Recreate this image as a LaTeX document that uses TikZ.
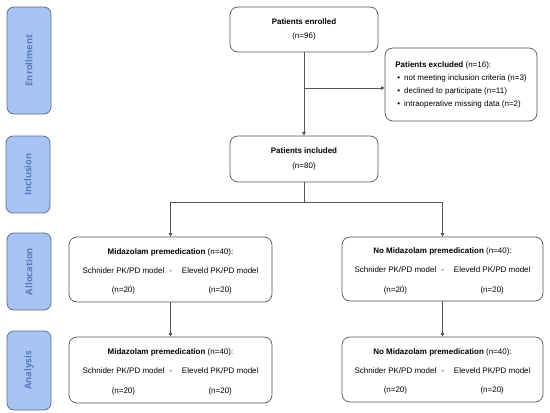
\documentclass[tikz,border=0pt]{standalone}
\usepackage{fontspec}
\setmainfont{Liberation Sans}
\newfontfamily\sidefont{Open Sans}
\usetikzlibrary{arrows.meta}
\definecolor{sidefill}{RGB}{168,196,245}
\definecolor{sidedraw}{RGB}{95,110,140}
\definecolor{sidetext}{RGB}{88,124,188}
\definecolor{linegray}{RGB}{85,85,85}
\newcommand{\armtext}[1]{%
  \renewcommand{\arraystretch}{2.0}%
  \begin{tabular}{@{}c@{\hspace{5pt}}c@{\hspace{10pt}}c@{}}
  \multicolumn{3}{c}{\textbf{#1} (n=40):}\\
  Schnider PK/PD model & - & Eleveld PK/PD model\\
  (n=20) & & (n=20)
  \end{tabular}}
\begin{document}
\begin{tikzpicture}[x=1pt,y=-1pt,
  sidebox/.style={draw=sidedraw, fill=sidefill, rounded corners=7pt, line width=0.8pt, rotate=90,
    minimum height=44pt, inner sep=0pt, text=sidetext, font=\sidefont\fontsize{9.3}{11}\selectfont\bfseries},
  flowbox/.style={draw=linegray, rounded corners=8pt, line width=0.7pt, inner sep=0pt, align=center,
    font=\fontsize{8}{9.6}\selectfont},
  link/.style={draw=linegray, line width=0.7pt, -{Triangle[length=3.5pt,width=3.5pt]}}]
\useasboundingbox (0,0) rectangle (550,413);
% stage labels
\node[sidebox, minimum width=107pt] (enroll) at (29,60.5) {Enrollment};
\node[sidebox, minimum width=77pt] (incl) at (28,174.5) {Inclusion};
\node[sidebox, minimum width=77pt] (alloc) at (29,271.5) {Allocation};
\node[sidebox, minimum width=79pt] (anal) at (29,370.5) {Analysis};
% flow
\node[flowbox, minimum width=148pt, minimum height=45pt] (enrolled) at (304,29.5) {\textbf{Patients enrolled}\\[5pt](n=96)};
\node[flowbox, minimum width=148pt, minimum height=46pt] (included) at (304,159) {\textbf{Patients included}\\[5pt](n=80)};
\node[flowbox, minimum width=152pt, minimum height=73pt] (excluded) at (461,84.5) {%
  \renewcommand{\arraystretch}{1.35}%
  \begin{tabular}{@{}l@{}}
  \textbf{Patients excluded} (n=16):\\
  \hspace{2pt}•\hspace{4pt}not meeting inclusion criteria (n=3)\\
  \hspace{2pt}•\hspace{4pt}declined to participate (n=11)\\
  \hspace{2pt}•\hspace{4pt}intraoperative missing data (n=2)
  \end{tabular}};
\node[flowbox, minimum width=203pt, minimum height=65pt] (midaz) at (170.5,269.5) {\armtext{Midazolam premedication}};
\node[flowbox, minimum width=201pt, minimum height=64pt] (nomidaz) at (442.5,269) {\armtext{No Midazolam premedication}};
\node[flowbox, minimum width=203pt, minimum height=66pt] (midazan) at (170.5,370) {\armtext{Midazolam premedication}};
\node[flowbox, minimum width=201pt, minimum height=65pt] (nomidazan) at (442.5,369.5) {\armtext{No Midazolam premedication}};
\coordinate (split) at (304,88);
\coordinate (fork) at (304,202);
\draw[link] (enrolled) -- (included);
\draw[link] (split) -- (split -| excluded.west);
\draw[draw=linegray, line width=0.7pt] (included) -- (fork);
\draw[link] (fork) -| (midaz.north);
\draw[link] (fork) -| (nomidaz.north);
\draw[link] (midaz) -- (midazan);
\draw[link] (nomidaz) -- (nomidazan);
\end{tikzpicture}
\end{document}
